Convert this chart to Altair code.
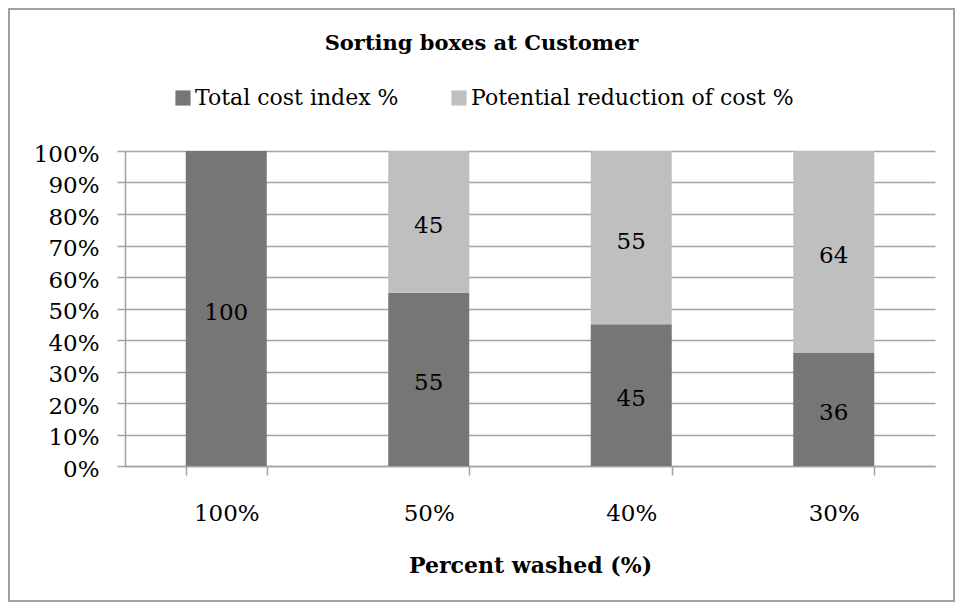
import altair as alt
import pandas as pd

categories = ["100%", "50%", "40%", "30%"]
total_cost = [100, 55, 45, 36]
reduction = [0, 45, 55, 64]
series_names = ["Total cost index %", "Potential reduction of cost %"]
colors = ["#767676", "#bfbfbf"]
y_ticks = [0, 0.1, 0.2, 0.3, 0.4, 0.5, 0.6, 0.7, 0.8, 0.9, 1.0]

rows = []
for c, t, r in zip(categories, total_cost, reduction):
    rows.append({"cat": c, "series": series_names[0], "value": t, "order": 0})
    rows.append({"cat": c, "series": series_names[1], "value": r, "order": 1})
df = pd.DataFrame(rows)

FONT = "DejaVu Serif"
GRID = "#a3a3a3"

base = alt.Chart(df).transform_stack(
    stack="value",
    groupby=["cat"],
    as_=["v0", "v1"],
    offset="normalize",
    sort=[alt.SortField("order", order="ascending")],
).transform_calculate(mid="(datum.v0 + datum.v1) / 2")

xscale = alt.Scale(paddingInner=0.6, paddingOuter=0.3)
yscale = alt.Scale(domain=[0, 1], nice=False)

xaxis = alt.Axis(
    title="Percent washed (%)",
    labelAngle=0,
    tickBand="extent",
    tickSize=9,
    tickColor=GRID,
    tickWidth=1.5,
    domainColor=GRID,
    domainWidth=1.5,
    labelPadding=27,
    labelFont=FONT,
    labelFontSize=23,
    labelColor="black",
    titleFont=FONT,
    titleFontSize=22,
    titleFontWeight="bold",
    titleColor="black",
    titlePadding=30,
    grid=False,
)

yaxis = alt.Axis(
    title=None,
    values=y_ticks,
    labelOverlap=False,
    format=".0%",
    tickSize=8,
    tickColor=GRID,
    tickWidth=1.5,
    domainColor=GRID,
    domainWidth=1.5,
    gridColor=GRID,
    gridWidth=1.5,
    labelPadding=18,
    labelOffset=3,
    labelFont=FONT,
    labelFontSize=23,
    labelColor="black",
)

bars = base.mark_bar().encode(
    x=alt.X("cat:N", sort=categories, scale=xscale, axis=xaxis),
    y=alt.Y("v0:Q", scale=yscale, axis=yaxis),
    y2="v1:Q",
    color=alt.Color(
        "series:N",
        scale=alt.Scale(domain=series_names, range=colors),
        sort=series_names,
        legend=alt.Legend(
            title=None,
            orient="none",
            direction="horizontal",
            legendX=47,
            legendY=-64,
            symbolType="square",
            symbolSize=230,
            symbolStrokeWidth=0,
            labelFont=FONT,
            labelFontSize=22,
            labelColor="black",
            labelOffset=1,
            labelLimit=500,
            columnPadding=49,
        ),
    ),
    order=alt.Order("order:Q"),
)

labels = base.transform_filter("datum.value > 0").mark_text(
    font=FONT, fontSize=23, color="black", baseline="middle", align="center", dy=4
).encode(
    x=alt.X("cat:N", sort=categories, scale=xscale, axis=xaxis),
    y=alt.Y("mid:Q", scale=yscale, axis=yaxis),
    text=alt.Text("value:Q"),
)

border = alt.Chart(pd.DataFrame({"a": [0]})).mark_rect(
    fill=None, stroke="#a0a0a0", strokeWidth=2
).encode(
    x=alt.value(-116),
    x2=alt.value(829),
    y=alt.value(-142),
    y2=alt.value(450),
)

chart = alt.layer(bars, labels, border).properties(
    width=810,
    height=315,
    autosize=alt.AutoSizeParams(type="none"),
    padding={"left": 117, "top": 143, "right": 20, "bottom": 136},
    title=alt.TitleParams(
        "Sorting boxes at Customer",
        font=FONT,
        fontSize=21,
        fontWeight="bold",
        color="black",
        anchor="middle",
        frame="bounds",
        offset=-46,
    ),
).configure_view(stroke=None).configure_axis(labelFlush=False)

chart.save("out.html", embed_options={"renderer": "svg", "actions": False})
